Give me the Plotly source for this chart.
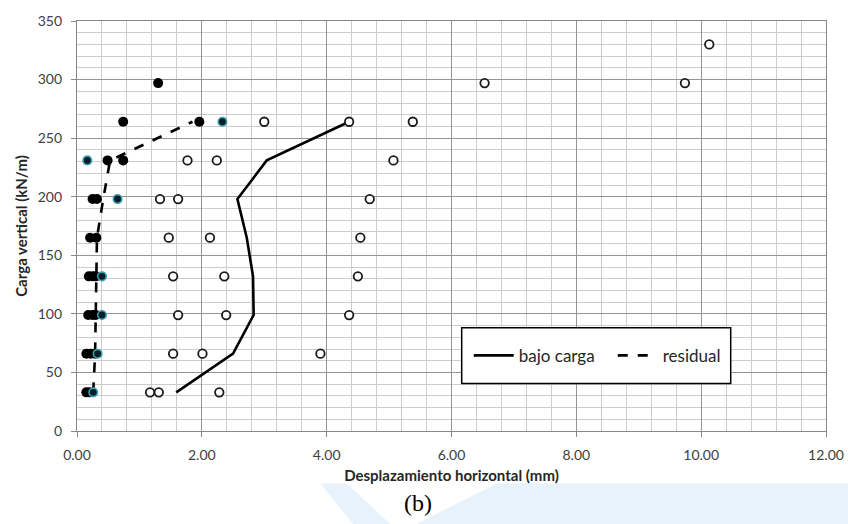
import plotly.graph_objects as go

# ---- data ----
loads_line = [33, 66, 99, 132, 165, 198, 231, 264]
bajo_carga_x = [1.59, 2.50, 2.83, 2.82, 2.72, 2.57, 3.04, 4.36]
residual_x = [0.26, 0.29, 0.30, 0.31, 0.32, 0.42, 0.53, 1.85]

open_x = [1.17, 1.31, 2.28, 1.54, 2.01, 3.90, 1.62, 2.39, 4.36, 1.54, 2.36, 4.50,
          1.47, 2.13, 4.54, 1.33, 1.62, 4.69, 1.77, 2.24, 5.07, 3.00, 4.36, 5.38,
          6.53, 9.74, 10.13]
open_y = [33, 33, 33, 66, 66, 66, 99, 99, 99, 132, 132, 132,
          165, 165, 165, 198, 198, 198, 231, 231, 231, 264, 264, 264,
          297, 297, 330]

filled_x = [0.15, 0.20, 0.15, 0.22, 0.29, 0.18, 0.25, 0.30, 0.19, 0.25, 0.30,
            0.21, 0.31, 0.25, 0.32, 0.49, 0.74, 0.74, 1.96, 1.30]
filled_y = [33, 33, 66, 66, 66, 99, 99, 99, 132, 132, 132,
            165, 165, 198, 198, 231, 231, 264, 264, 297]

teal_x = [0.26, 0.33, 0.40, 0.40, 0.65, 0.165, 2.33]
teal_y = [33, 66, 99, 132, 198, 231, 264]

x_ticks = [0, 2, 4, 6, 8, 10, 12]
x_tick_labels = ["0.00", "2.00", "4.00", "6.00", "8.00", "10.00", "12.00"]
y_ticks = [0, 50, 100, 150, 200, 250, 300, 350]

FONT = "Lato, 'Open Sans', sans-serif"

fig = go.Figure()

fig.add_trace(go.Scatter(
    x=bajo_carga_x, y=loads_line, mode="lines", name="bajo carga",
    line=dict(color="black", width=2.6)))
fig.add_trace(go.Scatter(
    x=residual_x, y=loads_line, mode="lines", name="residual",
    line=dict(color="black", width=2.6, dash="10px,10px")))

fig.add_trace(go.Scatter(
    x=open_x, y=open_y, mode="markers", showlegend=False,
    marker=dict(symbol="circle", size=8.5, color="white",
                line=dict(color="#1a1a1a", width=1.8))))
fig.add_trace(go.Scatter(
    x=filled_x, y=filled_y, mode="markers", showlegend=False,
    marker=dict(symbol="circle", size=10, color="black",
                line=dict(color="black", width=0))))
fig.add_trace(go.Scatter(
    x=teal_x, y=teal_y, mode="markers", showlegend=False,
    marker=dict(symbol="circle", size=8.5, color="#0a1e28",
                line=dict(color="#3a9fb2", width=1.6))))

axis_common = dict(
    showline=True, linecolor="#888888", linewidth=1.2, mirror=True,
    showgrid=True, gridcolor="#959595", gridwidth=1.2,
    zeroline=False, ticks="outside", ticklen=5, tickcolor="#888888",
    tickfont=dict(family=FONT, size=14, color="#404040"),
    automargin=False,
)

fig.update_xaxes(
    range=[0, 12], tickvals=x_ticks, ticktext=x_tick_labels,
    ticklabelstandoff=6,
    minor=dict(dtick=0.4, showgrid=True, gridcolor="#cccccc", gridwidth=1, ticks=""),
    title=dict(text="<b>Desplazamiento horizontal (mm)</b>", standoff=8,
               font=dict(family=FONT, size=15, color="#262626")),
    **axis_common)
fig.update_yaxes(
    range=[0, 350], tickvals=y_ticks,
    ticklabelstandoff=6,
    minor=dict(dtick=10, showgrid=True, gridcolor="#cccccc", gridwidth=1, ticks=""),
    title=dict(text="<b>Carga vertical (kN/m)</b>", standoff=6,
               font=dict(family=FONT, size=15, color="#262626")),
    **axis_common)

# legend frame
fig.add_shape(type="rect", xref="paper", yref="paper",
              x0=(461.7 - 77) / 749, x1=(730.7 - 77) / 749,
              y0=(431.3 - 383.7) / 410.6, y1=(431.3 - 328) / 410.6,
              line=dict(color="black", width=1.5), fillcolor="white", layer="above")

# faint background watermark band below the chart
fig.add_shape(type="path", xref="paper", yref="paper", layer="below",
              path="M 0.56,-0.128 L 1.03,-0.128 L 1.03,-0.23 L 0.45,-0.23 Z",
              fillcolor="#e7f3fc", line=dict(width=0))
fig.add_shape(type="path", xref="paper", yref="paper", layer="below",
              path="M 0.325,-0.128 L 0.36,-0.128 L 0.42,-0.23 L 0.37,-0.23 Z",
              fillcolor="#e7f3fc", line=dict(width=0))

fig.update_layout(
    width=848, height=524,
    margin=dict(l=77, r=22, t=21, b=93),
    paper_bgcolor="white", plot_bgcolor="white",
    showlegend=True,
    legend=dict(orientation="h", x=0.523, y=0.1834, xanchor="left", yanchor="middle",
                bgcolor="rgba(0,0,0,0)", borderwidth=0,
                font=dict(family=FONT, size=17, color="#262626"),
                itemwidth=40, tracegroupgap=0, entrywidth=89, entrywidthmode="pixels"),
    annotations=[dict(text="(b)", xref="paper", yref="paper", x=0.455, y=-0.140,
                      xanchor="center", yanchor="top", showarrow=False,
                      font=dict(family="'Liberation Serif', 'Times New Roman', serif",
                                size=24, color="black"))],
)

fig.write_html("out.html", config={"displayModeBar": False},
               post_script="document.body.style.margin='0px';document.body.style.overflow='hidden';")
